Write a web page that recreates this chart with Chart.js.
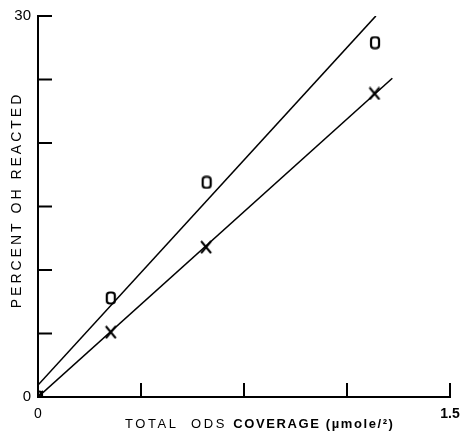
<!DOCTYPE html>
<html>
<head>
<meta charset="utf-8">
<script src="https://cdn.jsdelivr.net/npm/chart.js@4/dist/chart.umd.min.js"></script>
<style>
html,body{margin:0;padding:0;background:#fff;}
#wrap{width:464px;height:433px;position:relative;}
</style>
</head>
<body>
<div id="wrap"><canvas id="c" width="464" height="433"></canvas></div>
<script>
// ---- data ----
const coverageO = [0, 0.265, 0.614, 1.227];
const percentO  = [0, 7.8, 16.9, 27.9];
const coverageX = [0, 0.265, 0.612, 1.225];
const percentX  = [0, 5.1, 11.8, 23.9];
// fitted straight lines (end points)
const fitOx = [0, 1.23];
const fitOy = [0.94, 30];
const fitXx = [0, 1.29];
const fitXy = [0, 25.1];
// axes
const yTickValues = [0, 5, 10, 15, 20, 25, 30];
const yTickLabels = {0: '0', 30: '30'};
const xTickValues = [0, 0.375, 0.75, 1.125, 1.5];
const xTickLabels = {0: '0', 1.5: '1.5'};
const yTitle = 'PERCENT OH REACTED';
const xTitleLight = 'TOTAL  ODS ';
const xTitleBold = 'COVERAGE (\u00b5mole/\u00b2)';

function pts(xs, ys){ return xs.map((x,i)=>({x:x, y:ys[i]})); }

function makeO(){
  const c = document.createElement('canvas'); c.width = 12; c.height = 14;
  const g = c.getContext('2d'); g.strokeStyle = '#000'; g.lineWidth = 2.2;
  g.beginPath(); g.roundRect(2, 1.5, 8, 11, 3); g.stroke(); return c;
}
function makeX(){
  const c = document.createElement('canvas'); c.width = 14; c.height = 14;
  const g = c.getContext('2d'); g.strokeStyle = '#000'; g.lineWidth = 2;
  g.beginPath(); g.moveTo(2,1); g.lineTo(12,13); g.moveTo(12,1); g.lineTo(2,13); g.stroke(); return c;
}

const FONT = '"Liberation Sans", Arial, sans-serif';

const innerTicks = {
  id: 'innerTicks',
  afterDraw(chart){
    const ctx = chart.ctx, xs = chart.scales.x, ys = chart.scales.y;
    const len = 14;
    ctx.save(); ctx.strokeStyle = '#000'; ctx.lineWidth = 2;
    ctx.beginPath();
    yTickValues.forEach(v => { const p = ys.getPixelForValue(v); ctx.moveTo(xs.left, p); ctx.lineTo(xs.left + len, p); });
    xTickValues.forEach(v => { const p = xs.getPixelForValue(v); ctx.moveTo(p, ys.bottom); ctx.lineTo(p, ys.bottom - len); });
    ctx.stroke();
    // axis titles
    ctx.fillStyle = '#000';
    ctx.letterSpacing = '3px';
    ctx.font = '14px ' + FONT;
    ctx.textAlign = 'center'; ctx.textBaseline = 'middle';
    ctx.save();
    ctx.translate(17, 200);
    ctx.rotate(-Math.PI / 2);
    ctx.fillText(yTitle, 0, 0);
    ctx.restore();
    ctx.textAlign = 'left'; ctx.textBaseline = 'alphabetic';
    ctx.letterSpacing = '2.6px';
    ctx.font = '13px ' + FONT;
    const x0 = 125, base = 428;
    ctx.fillText(xTitleLight, x0, base);
    const w = ctx.measureText(xTitleLight).width;
    ctx.letterSpacing = '1.6px';
    ctx.font = 'bold 13px ' + FONT;
    ctx.fillText(xTitleBold, x0 + w, base);
    ctx.restore();
  }
};

new Chart(document.getElementById('c'), {
  type: 'scatter',
  data: {
    datasets: [
      { label: 'fit O', type: 'line', data: pts(fitOx, fitOy), borderColor: '#000', borderWidth: 1.6, pointRadius: 0, fill: false, order: 2 },
      { label: 'fit X', type: 'line', data: pts(fitXx, fitXy), borderColor: '#000', borderWidth: 1.6, pointRadius: 0, fill: false, order: 2 },
      { label: 'O', data: pts(coverageO, percentO), pointStyle: makeO(), pointRadius: 6, order: 1 },
      { label: 'X', data: pts(coverageX, percentX), pointStyle: makeX(), pointRadius: 7, order: 1 }
    ]
  },
  options: {
    responsive: false,
    animation: false,
    devicePixelRatio: 1,
    layout: { padding: { top: 16, right: 14, left: 0, bottom: 0 } },
    plugins: { legend: { display: false }, tooltip: { enabled: false } },
    scales: {
      x: {
        type: 'linear', min: 0, max: 1.5,
        afterBuildTicks: s => { s.ticks = xTickValues.map(v => ({value: v})); },
        afterFit: s => { s.height = 36; s.paddingRight = 0; s.paddingLeft = 0; },
        grid: { display: false, drawTicks: false },
        border: { display: true, color: '#000', width: 2 },
        ticks: {
          autoSkip: false, maxRotation: 0, padding: 9, color: '#000',
          callback: v => (xTickLabels[v] !== undefined ? xTickLabels[v] : ''),
          font: ctx => (ctx.tick && ctx.tick.value === 1.5) ? { family: FONT, size: 14, weight: 'bold' } : { family: FONT, size: 14 }
        }
      },
      y: {
        type: 'linear', min: 0, max: 30,
        afterBuildTicks: s => { s.ticks = yTickValues.map(v => ({value: v})); },
        afterFit: s => { s.width = 38; s.paddingTop = 0; s.paddingBottom = 0; },
        grid: { display: false, drawTicks: false },
        border: { display: true, color: '#000', width: 2 },
        ticks: {
          autoSkip: false, padding: 7, color: '#000',
          callback: v => (yTickLabels[v] !== undefined ? yTickLabels[v] : ''),
          font: { family: FONT, size: 15 }
        }
      }
    }
  },
  plugins: [innerTicks]
});
</script>
</body>
</html>
